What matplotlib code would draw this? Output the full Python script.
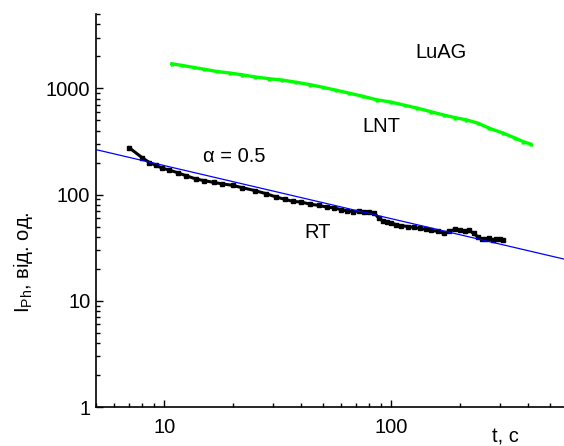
import matplotlib
matplotlib.use('Agg')
import matplotlib.pyplot as plt
import numpy as np

plt.rcParams['font.family'] = ['Liberation Sans', 'DejaVu Sans']
plt.rcParams['mathtext.default'] = 'regular'

# RT curve (black)
rt_t = [7.0, 8.0, 8.6, 9.2, 9.8, 10.5, 11.5, 12.5, 13.8, 15, 16.5, 18, 20, 22, 25,
        28, 31, 34, 37, 40, 44, 48, 52, 56, 60, 64, 68, 72, 76, 80, 84, 88, 92, 96,
        100, 105, 110, 118, 126, 133, 142, 150, 160, 170, 180, 190, 200, 210, 220,
        230, 240, 250, 260, 270, 280, 290, 300, 310]
rt_i = [276, 222, 200, 188, 177, 170, 160, 150, 140, 135, 130, 126, 122, 116, 109,
        102, 95, 90, 86, 85, 81, 79, 76, 75, 72, 70, 69, 70, 68, 68, 67, 60, 56, 55,
        54, 52, 51, 50, 49, 48, 47, 46, 45, 43, 45, 47, 46, 45, 46,
        43, 40, 38, 38, 39, 37, 38, 38, 37]

# LNT curve (green)
lnt_t = [10.8, 12, 13.5, 15, 17, 19.5, 22, 25, 29, 33, 38, 44, 50, 57, 65, 75, 86, 100,
         115, 130, 150, 170, 190, 214, 240, 270, 311, 350, 380, 410]
lnt_i = [1700, 1640, 1570, 1510, 1440, 1390, 1340, 1280, 1230, 1195, 1140, 1080, 1020,
         960, 900, 840, 780, 740, 690, 650, 600, 560, 530, 504, 470, 420, 378, 340, 315, 298]

# power-law guide, alpha = 0.5
fit_t = [5, 575]
fit_amp = 592
fit_alpha = 0.5

fig = plt.figure(figsize=(5.64, 4.46), dpi=100)
ax = fig.add_axes([0.170, 0.0874, 0.830, 0.8812])

fit_i = [fit_amp * t ** (-fit_alpha) for t in fit_t]
ax.plot(fit_t, fit_i, color='#0000ff', lw=0.9, zorder=3)
ax.plot(lnt_t, lnt_i, color='#00ff00', lw=2.4, marker='^', ms=2.0, zorder=2)
ax.plot(rt_t, rt_i, color='black', lw=2.2, marker='s', ms=2.2, zorder=2)

ax.set_xscale('log')
ax.set_yscale('log')
ax.set_xlim(5, 575)
ax.set_ylim(1, 5000)

for s in ['top', 'right']:
    ax.spines[s].set_visible(False)
for s in ['left', 'bottom']:
    ax.spines[s].set_linewidth(1.2)

ax.tick_params(which='both', direction='in', width=1.0, labelsize=14.5)
ax.tick_params(which='major', length=5)
ax.tick_params(which='minor', length=3)
ax.tick_params(axis='x', pad=8)
ax.tick_params(axis='y', pad=4)
ax.xaxis.set_major_formatter(matplotlib.ticker.FuncFormatter(lambda v, p: '%g' % v))
ax.yaxis.set_major_formatter(matplotlib.ticker.FuncFormatter(lambda v, p: '%g' % v))
ax.xaxis.set_minor_formatter(matplotlib.ticker.NullFormatter())

ax.text(165, 2155, 'LuAG', fontsize=14.5, ha='center', va='center')
ax.text(90, 433, 'LNT', fontsize=14.5, ha='center', va='center')
ax.text(20.4, 226, 'α = 0.5', fontsize=14.5, ha='center', va='center')
ax.text(47.1, 43.5, 'RT', fontsize=14.5, ha='center', va='center')

fig.text(0.897, 0.02, 't, c', fontsize=14.5, ha='center', va='center')
fig.text(0.04, 0.413, 'I$_{Ph}$, від. од.', fontsize=14.5, rotation=90,
         ha='center', va='center')

fig.savefig('out.png', dpi=100)
